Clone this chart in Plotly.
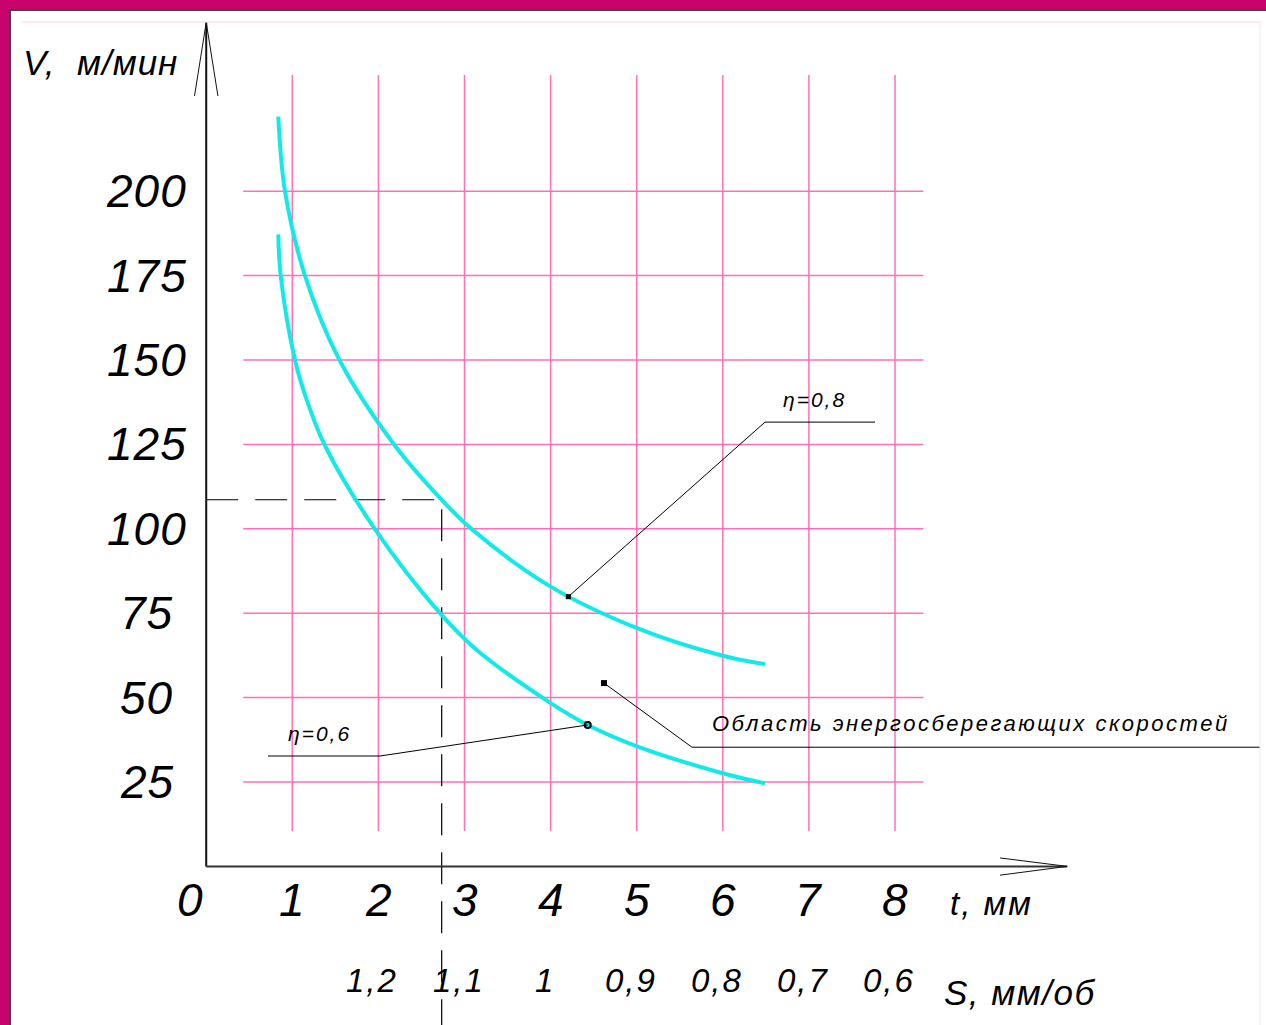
import plotly.graph_objects as go

# ---------------- data ----------------
T_TICKS = [1, 2, 3, 4, 5, 6, 7, 8]
T_LABELS = ["0", "1", "2", "3", "4", "5", "6", "7", "8"]
T_LABEL_POS = [0, 1, 2, 3, 4, 5, 6, 7, 8]
S_LABELS = ["1,2", "1,1", "1", "0,9", "0,8", "0,7", "0,6"]
S_LABEL_POS = [2, 3, 4, 5, 6, 7, 8]
V_TICKS = [25, 50, 75, 100, 125, 150, 175, 200]

# eta = 0.8 curve (upper)
T_08 = [0.837, 0.915, 1.147, 1.554, 2.193, 2.735, 3.084, 4.005, 5.012, 5.999, 6.49]
V_08 = [222.1, 200.0, 175.0, 149.7, 124.6, 108.6, 99.9, 82.8, 70.5, 62.4, 59.9]
# eta = 0.6 curve (lower)
T_06 = [0.837, 0.865, 1.031, 1.167, 1.380, 1.960, 2.715, 3.142, 4.005, 4.431, 5.012, 5.999, 6.49]
V_06 = [187.2, 175.0, 150.0, 138.2, 124.6, 99.9, 75.0, 64.1, 48.3, 41.9, 35.5, 27.6, 24.6]

# chosen working point
T_POINT = 2.735
V_POINT = 108.6

# ---------------- styling ----------------
BORDER = "#c8046c"
GRID = "#ff70b8"
CYAN = "#14e9ea"
FONT = "Liberation Sans"

X_RANGE = [-2.279, 12.309]
Y_RANGE = [-46.98, 253.67]
GRID_X_SPAN = [0.43, 8.33]
GRID_Y_SPAN = [10.5, 234.4]

fig = go.Figure()

# grid lines
for t in T_TICKS:
    fig.add_trace(go.Scatter(x=[t, t], y=GRID_Y_SPAN, mode="lines",
                             line=dict(color=GRID, width=1.5), hoverinfo="skip", showlegend=False))
for v in V_TICKS:
    fig.add_trace(go.Scatter(x=GRID_X_SPAN, y=[v, v], mode="lines",
                             line=dict(color=GRID, width=1.5), hoverinfo="skip", showlegend=False))

# dashed working-point lines
fig.add_trace(go.Scatter(x=[0, T_POINT, T_POINT], y=[V_POINT, V_POINT, Y_RANGE[0]], mode="lines",
                         line=dict(color="black", width=1.2, dash="32px,17px"),
                         hoverinfo="skip", showlegend=False))

# axes with arrows
fig.add_trace(go.Scatter(x=[0, 0], y=[0, 250], mode="lines",
                         line=dict(color="#111", width=2), hoverinfo="skip", showlegend=False))
fig.add_trace(go.Scatter(x=[-0.136, 0, 0.136], y=[228.2, 250, 228.2], mode="lines",
                         line=dict(color="#111", width=1), hoverinfo="skip", showlegend=False))
fig.add_trace(go.Scatter(x=[0, 10.0], y=[0, 0], mode="lines",
                         line=dict(color="#333", width=2), hoverinfo="skip", showlegend=False))
fig.add_trace(go.Scatter(x=[9.22, 10.0, 9.22], y=[2.5, 0, -2.6], mode="lines",
                         line=dict(color="#111", width=1), hoverinfo="skip", showlegend=False))

# curves
fig.add_trace(go.Scatter(x=T_08, y=V_08, mode="lines", line=dict(color=CYAN, width=4, shape="spline"),
                         name="η=0,8", showlegend=False))
fig.add_trace(go.Scatter(x=T_06, y=V_06, mode="lines", line=dict(color=CYAN, width=4, shape="spline"),
                         name="η=0,6", showlegend=False))

# leader lines
fig.add_trace(go.Scatter(x=[7.768, 6.49, 4.206], y=[131.6, 131.6, 79.9], mode="lines",
                         line=dict(color="black", width=1), hoverinfo="skip", showlegend=False))
fig.add_trace(go.Scatter(x=[4.206], y=[79.9], mode="markers",
                         marker=dict(symbol="square", size=5, color="black"), hoverinfo="skip", showlegend=False))
fig.add_trace(go.Scatter(x=[0.718, 2.019, 4.431], y=[32.7, 32.7, 41.9], mode="lines",
                         line=dict(color="black", width=1), hoverinfo="skip", showlegend=False))
fig.add_trace(go.Scatter(x=[4.431], y=[41.9], mode="markers",
                         marker=dict(symbol="circle-open", size=6, color="black", line=dict(width=2)),
                         hoverinfo="skip", showlegend=False))
fig.add_trace(go.Scatter(x=[12.24, 5.642, 4.62], y=[35.3, 35.3, 54.3], mode="lines",
                         line=dict(color="black", width=1), hoverinfo="skip", showlegend=False))
fig.add_trace(go.Scatter(x=[4.62], y=[54.3], mode="markers",
                         marker=dict(symbol="square", size=6, color="black"), hoverinfo="skip", showlegend=False))

ann = []


def txt(x, y, text, size, xanchor="center", yanchor="middle", xshift=0, spacing=None):
    if spacing is not None:
        text = f'<span style="letter-spacing:{spacing}px">{text}</span>'
    ann.append(dict(x=x, y=y, xref="x", yref="y", text=text, showarrow=False,
                    xanchor=xanchor, yanchor=yanchor, xshift=xshift,
                    font=dict(family=FONT, size=size, color="black", style="italic")))


for v in V_TICKS:
    txt(-0.69, v, str(v), 46, spacing=1)
for p, lab in zip(T_LABEL_POS, T_LABELS):
    txt(p, -9.9, lab, 46, xshift=(-16 if p == 0 else 0))
for p, lab in zip(S_LABEL_POS, S_LABELS):
    txt(p, -33.7, lab, 33, xshift=-6, spacing=2)

txt(8.62, -11.0, "t, мм", 33, xanchor="left", spacing=2)
txt(8.55, -37.3, "S, мм/об", 35, xanchor="left", spacing=1.5)
txt(-2.15, 238.2, "V,\u00a0 м/мин", 35, xanchor="left", spacing=1)
txt(7.06, 138.2, "η=0,8", 21, spacing=2)
txt(1.32, 39.5, "η=0,6", 21, spacing=2)
txt(5.85, 42.2, "Область энергосберегающих скоростей", 22, xanchor="left", spacing=2.5)

fig.update_layout(
    width=1266, height=1025,
    margin=dict(l=10, r=0, t=10, b=0),
    paper_bgcolor=BORDER,
    plot_bgcolor="white",
    showlegend=False,
    annotations=ann,
    xaxis=dict(range=X_RANGE, visible=False, fixedrange=True),
    yaxis=dict(range=Y_RANGE, visible=False, fixedrange=True),
    shapes=[
        dict(type="line", xref="paper", yref="paper", x0=0, x1=0, y0=0, y1=1,
             line=dict(color="#444", width=2)),
        dict(type="line", xref="paper", yref="paper", x0=0, x1=1, y0=1, y1=1,
             line=dict(color="#444", width=2)),
        dict(type="line", xref="x", yref="y", x0=X_RANGE[0] + 0.14, x1=12.24, y0=250.1, y1=250.1,
             line=dict(color="#ffd0e6", width=1)),
        dict(type="line", xref="x", yref="y", x0=12.24, x1=12.24, y0=Y_RANGE[0], y1=250.1,
             line=dict(color="#f3e6ee", width=1)),
    ],
)

fig.write_html("out.html", config={"displayModeBar": False},
               post_script="document.body.style.margin='0px';document.body.style.padding='0px';")
